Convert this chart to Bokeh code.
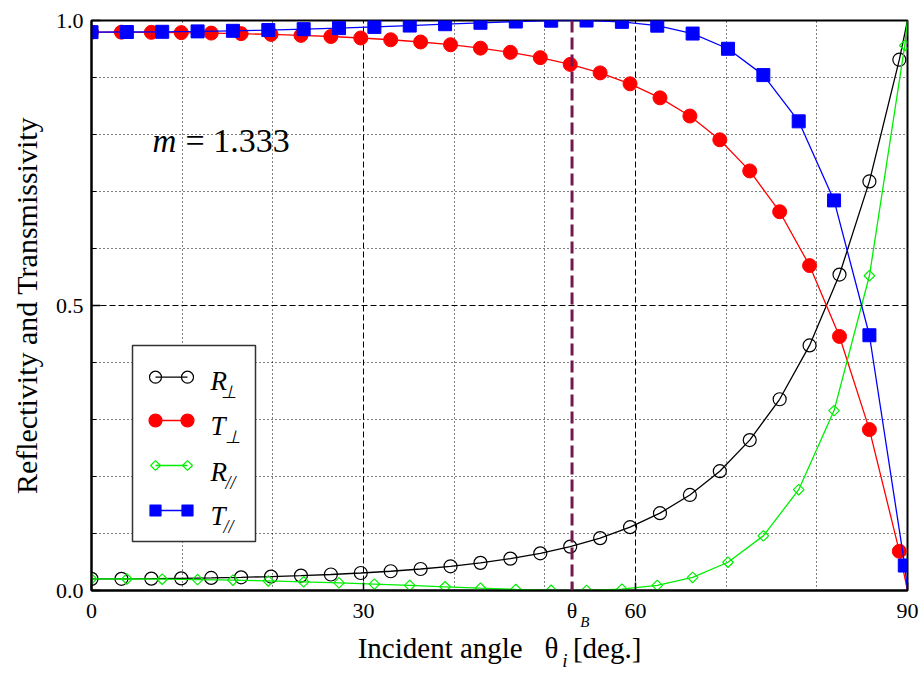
from bokeh.plotting import figure
from bokeh.models import Range1d, FixedTicker, Grid, Label, Span, PrintfTickFormatter, LinearAxis
from bokeh.embed import file_html
from bokeh.resources import INLINE

# ---------------- data ----------------
theta_perp = [0.0, 3.3, 6.6, 9.9, 13.2, 16.5, 19.8, 23.1, 26.4, 29.7, 33.0, 36.3, 39.6, 42.9,
              46.2, 49.5, 52.8, 56.1, 59.4, 62.7, 66.0, 69.3, 72.6, 75.9, 79.2, 82.5, 85.8, 89.1]
R_perp = [0.0204, 0.0205, 0.0208, 0.0213, 0.0221, 0.0231, 0.0244, 0.0261, 0.0281, 0.0307,
          0.0338, 0.0377, 0.0425, 0.0485, 0.0559, 0.0652, 0.0770, 0.0919, 0.1111, 0.1357,
          0.1676, 0.2093, 0.2639, 0.3355, 0.4300, 0.5543, 0.7177, 0.9312]
T_perp = [0.9796, 0.9795, 0.9792, 0.9787, 0.9779, 0.9769, 0.9756, 0.9739, 0.9719, 0.9693,
          0.9662, 0.9623, 0.9575, 0.9515, 0.9441, 0.9348, 0.9230, 0.9081, 0.8889, 0.8643,
          0.8324, 0.7907, 0.7361, 0.6645, 0.5700, 0.4457, 0.2823, 0.0688]

theta_par = [0.0, 3.9, 7.8, 11.7, 15.6, 19.5, 23.4, 27.3, 31.2, 35.1, 39.0, 42.9,
             46.8, 50.7, 54.6, 58.5, 62.4, 66.3, 70.2, 74.1, 78.0, 81.9, 85.8, 89.7]
R_par = [0.0204, 0.0202, 0.0198, 0.0191, 0.0181, 0.0168, 0.0152, 0.0134, 0.0112, 0.0089,
         0.0065, 0.0040, 0.0018, 0.0003, 0.0001, 0.0024, 0.0090, 0.0229, 0.0496, 0.0958,
         0.1769, 0.3156, 0.5522, 0.9562]
T_par = [0.9796, 0.9798, 0.9802, 0.9809, 0.9819, 0.9832, 0.9848, 0.9866, 0.9888, 0.9911,
         0.9935, 0.9960, 0.9982, 0.9997, 0.9999, 0.9976, 0.9910, 0.9771, 0.9504, 0.9042,
         0.8231, 0.6844, 0.4478, 0.0438]

# curve end values at grazing incidence
theta_end = 90.0
R_end = 1.0
T_end = 0.0

theta_B = 53            # Brewster angle (deg)
m_text = "= 1.333"

x_ticks = [0, 30, theta_B, 60, 90]
x_tick_labels = {0: "0", 30: "30", theta_B: "\u03b8", 60: "60", 90: "90"}
x_grid_major = [30, 60]
x_grid_minor = [10, 20, 40, 50, 70, 80]
y_ticks = [0.0, 0.5, 1.0]
y_minor = [0.1, 0.2, 0.3, 0.4, 0.6, 0.7, 0.8, 0.9]
y_grid_major = [0.5]
y_grid_minor = [0.1, 0.2, 0.3, 0.4, 0.6, 0.7, 0.8, 0.9]

NB = "\u00a0"
x_title = "Incident angle" + NB * 3 + "\u03b8" + NB * 2 + "[deg.]"
y_title = "Reflectivity and Transmissivity"

SERIF = "Liberation Serif"
BLACK, RED, GREEN, BLUE = "black", "#ff0000", "#00ee00", "#0000ff"
BRW = "#74194f"

# ---------------- figure ----------------
p = figure(frame_width=816, frame_height=570,
           x_range=Range1d(0, 90), y_range=Range1d(0, 1),
           output_backend="svg", toolbar_location=None,
           min_border_left=91, min_border_right=15, min_border_top=20, min_border_bottom=82,
           background_fill_color="white", border_fill_color="white")
p.outline_line_color = "black"
p.outline_line_width = 2

# axes
p.xaxis.ticker = FixedTicker(ticks=x_ticks, minor_ticks=[])
p.xaxis.major_label_overrides = x_tick_labels
p.xaxis.major_tick_in = 8
p.xaxis.major_tick_out = 0
p.xaxis.minor_tick_in = 0
p.xaxis.minor_tick_out = 0
p.xaxis.major_label_standoff = 7
p.yaxis.ticker = FixedTicker(ticks=y_ticks, minor_ticks=y_minor)
p.yaxis.major_tick_in = 9
p.yaxis.major_tick_out = 0
p.yaxis.minor_tick_in = 5
p.yaxis.minor_tick_out = 0
p.yaxis.major_label_standoff = 8
p.yaxis.formatter = PrintfTickFormatter(format="%.1f")
p.yaxis.axis_label = y_title
p.yaxis.axis_label_text_font = SERIF
p.yaxis.axis_label_text_font_size = "30px"
p.yaxis.axis_label_text_font_style = "normal"
p.yaxis.axis_label_text_color = "black"
p.yaxis.axis_label_standoff = 10
for ax in (p.xaxis, p.yaxis):
    ax.axis_line_color = "black"
    ax.axis_line_width = 2
    ax.major_tick_line_color = "black"
    ax.minor_tick_line_color = "black"
    ax.major_tick_line_width = 1.5
    ax.major_label_text_font = SERIF
    ax.major_label_text_font_size = "22px"
    ax.major_label_text_color = "black"

# extra label-only axes below: subscript "B" of theta_B plus the axis title, then subscript "i"
def text_axis(pos, text, size, style, standoff):
    ax = LinearAxis(ticker=FixedTicker(ticks=[pos], minor_ticks=[]),
                    major_label_overrides={pos: text},
                    axis_line_color=None, major_tick_line_color=None, minor_tick_line_color=None,
                    major_tick_in=0, major_tick_out=0, minor_tick_in=0, minor_tick_out=0,
                    major_label_standoff=standoff,
                    major_label_text_font=SERIF, major_label_text_font_size=size,
                    major_label_text_font_style=style, major_label_text_color="black")
    return ax

axB = text_axis(54.4, "B", "15px", "italic", -12)
axB.axis_label = x_title
axB.axis_label_text_font = SERIF
axB.axis_label_text_font_size = "29px"
axB.axis_label_text_font_style = "normal"
axB.axis_label_text_color = "black"
axB.axis_label_standoff = -1
p.add_layout(axB, "below")
axI = text_axis(52.2, "i", "19px", "italic", -17)
p.add_layout(axI, "below")

# grids
p.xgrid.ticker = FixedTicker(ticks=x_grid_major)
p.ygrid.ticker = FixedTicker(ticks=y_grid_major)
for g in (p.xgrid, p.ygrid):
    g.grid_line_color = "black"
    g.grid_line_width = 1
    g.grid_line_dash = "6 3"
p.add_layout(Grid(dimension=0, ticker=FixedTicker(ticks=x_grid_minor),
                  grid_line_color="black", grid_line_width=1, grid_line_dash="1 3"))
p.add_layout(Grid(dimension=1, ticker=FixedTicker(ticks=y_grid_minor),
                  grid_line_color="black", grid_line_width=1, grid_line_dash="1 3"))

# ---------------- curves ----------------
LW = 1.3
p.line(theta_perp + [theta_end], R_perp + [R_end], line_color=BLACK, line_width=LW)
p.scatter(theta_perp, R_perp, marker="circle", size=13, fill_color=None,
          line_color=BLACK, line_width=1.2)
p.line(theta_perp + [theta_end], T_perp + [T_end], line_color=RED, line_width=LW)
p.scatter(theta_perp, T_perp, marker="circle", size=14, fill_color=RED, line_color=RED)
p.line(theta_par + [theta_end], R_par + [R_end], line_color=GREEN, line_width=LW)
p.scatter(theta_par, R_par, marker="square", angle=0.7853981634, size=7.5, fill_color=None,
          line_color=GREEN, line_width=1.2)
p.line(theta_par + [theta_end], T_par + [T_end], line_color=BLUE, line_width=LW)
p.scatter(theta_par, T_par, marker="square", size=13, fill_color=BLUE, line_color=BLUE)

p.add_layout(Span(location=theta_B, dimension="height", line_color=BRW,
                  line_width=3, line_dash="12 5"))

# ---------------- layout helpers (pixel -> data, for in-frame annotations only) ----------------
FX0, FPX = 91.0, 816.0 / 90.0
FY0, FPY = 590.0, 570.0
def fx(px):
    return (px - FX0) / FPX
def fy(py):
    return (FY0 - py) / FPY

def lab(text, px, py, size, style="normal", align="left"):
    p.add_layout(Label(x=fx(px), y=fy(py), text=text, text_font=SERIF,
                       text_font_size=size, text_font_style=style, text_color="black",
                       text_align=align, text_baseline="alphabetic"))

# m = 1.333
lab("m", 152, 140, "33px", "italic")
lab(m_text, 185, 140, "34px")

# ---------------- legend (drawn by hand) ----------------
p.quad(left=fx(132), right=fx(255), top=fy(345), bottom=fy(541),
       fill_color="white", line_color="#333333", line_width=1.5)
leg_x = [fx(155), fx(187)]
rows = [
    (376.7, BLACK, "circle", 12, None, 0.0, "R", "\u22a5", 220, 380),
    (420.0, RED, "circle", 13, RED, 0.0, "T", "\u22a5", 224, 425),
    (465.0, GREEN, "square", 7, None, 0.7853981634, "R", "//", 225, 471),
    (510.0, BLUE, "square", 11, BLUE, 0.0, "T", "//", 223, 515),
]
for (py, col, mk, sz, fc, ang, main, sub, subx, base) in rows:
    ys = [fy(py), fy(py)]
    p.line(leg_x, ys, line_color=col, line_width=LW)
    p.scatter(leg_x, ys, marker=mk, size=sz, angle=ang, fill_color=fc,
              line_color=col, line_width=1.2)
    lab(main, 210, base, "27px", "italic")
    lab(sub, subx, base + 11, "18px", "italic")

open("out.html", "w").write(file_html(p, INLINE))
